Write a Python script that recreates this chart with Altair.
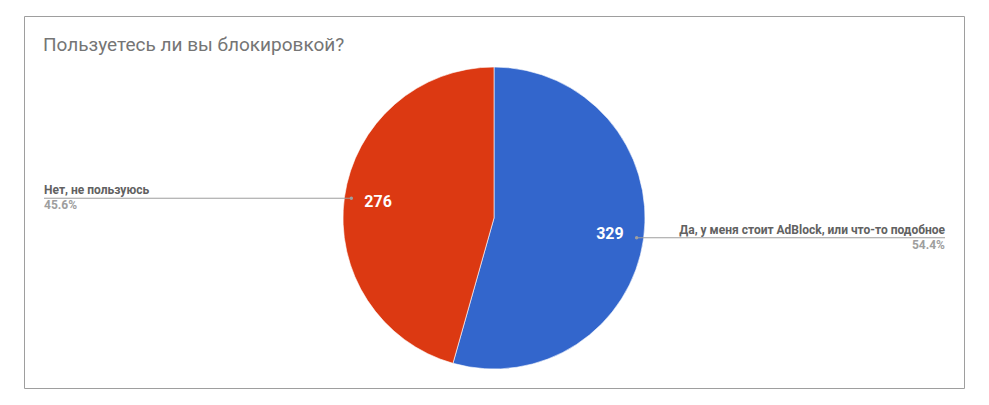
import math
import altair as alt
import pandas as pd

# ---- data ----
categories = ["Да, у меня стоит AdBlock, или что-то подобное", "Нет, не пользуюсь"]
values = [329, 276]
percent_labels = ["54.4%", "45.6%"]
colors = ["#3366cc", "#dc3912"]
title_text = "Пользуетесь ли вы блокировкой?"

# ---- layout (view = bordered chart area) ----
W, H = 940, 372
CX, CY = 470, 202
R = 151
R_DOT = 144
R_VALUE = 117
LEFT_X, RIGHT_X = 20, 921
FONT = "Roboto"

total = sum(values)
rows = []
cum = 0
for i, (c, v, p) in enumerate(zip(categories, values, percent_labels)):
    mid = (cum + v / 2) / total * 2 * math.pi
    cum += v
    sx, sy = math.sin(mid), -math.cos(mid)
    right = sx >= 0
    rows.append(dict(
        category=c, value=v, pct=p, order=i,
        dot_x=CX + R_DOT * sx, dot_y=CY + R_DOT * sy,
        end_x=RIGHT_X if right else LEFT_X,
        side="right" if right else "left",
    ))
df = pd.DataFrame(rows)

xs = alt.Scale(domain=[0, W], range=[0, W], nice=False, zero=False)
ys = alt.Scale(domain=[0, H], range=[0, H], nice=False, zero=False)

base = alt.Chart(df)

pie = base.mark_arc(outerRadius=R, stroke="#ffffff", strokeWidth=0.6).encode(
    theta=alt.Theta("value:Q", stack=True),
    order=alt.Order("order:Q"),
    color=alt.Color("category:N", scale=alt.Scale(domain=categories, range=colors), legend=None),
    x=alt.value(CX), y=alt.value(CY),
)

value_text = base.mark_text(radius=R_VALUE, fontSize=16, fontWeight="bold", color="#ffffff",
                            font=FONT, align="center", baseline="middle").encode(
    theta=alt.Theta("value:Q", stack=True),
    order=alt.Order("order:Q"),
    text=alt.Text("value:Q"),
    x=alt.value(CX), y=alt.value(CY),
)

leader = base.mark_rule(color="#9e9e9e", strokeWidth=1).encode(
    x=alt.X("dot_x:Q", scale=xs, axis=None),
    x2="end_x:Q",
    y=alt.Y("dot_y:Q", scale=ys, axis=None),
)

dots = base.mark_circle(size=12, color="#9e9e9e", opacity=1).encode(
    x=alt.X("dot_x:Q", scale=xs, axis=None),
    y=alt.Y("dot_y:Q", scale=ys, axis=None),
)

def side_labels(side, align):
    src = base.transform_filter(alt.datum.side == side)
    name = src.mark_text(align=align, baseline="alphabetic", dy=-4, fontSize=12,
                         fontWeight="bold", color="#616161", font=FONT).encode(
        x=alt.X("end_x:Q", scale=xs, axis=None),
        y=alt.Y("dot_y:Q", scale=ys, axis=None),
        text="category:N",
    )
    pct = src.mark_text(align=align, baseline="alphabetic", dy=11, fontSize=12,
                        fontWeight="bold", color="#9e9e9e", font=FONT).encode(
        x=alt.X("end_x:Q", scale=xs, axis=None),
        y=alt.Y("dot_y:Q", scale=ys, axis=None),
        text="pct:N",
    )
    return name + pct

title = alt.Chart(pd.DataFrame({"t": [title_text]})).mark_text(
    align="left", baseline="alphabetic", fontSize=19, color="#757575", font=FONT
).encode(x=alt.value(19), y=alt.value(35), text="t:N")

chart = alt.layer(
    pie, leader, dots, value_text,
    side_labels("right", "right"), side_labels("left", "left"),
    title,
).properties(
    width=W, height=H,
    padding={"left": 16, "top": 8, "right": 17, "bottom": 9},
    autosize=alt.AutoSizeParams(type="none"),
    background="#ffffff",
).configure_view(stroke="#9e9e9e", strokeWidth=1)

chart.save("out.html", embed_options={"renderer": "svg", "actions": False})
